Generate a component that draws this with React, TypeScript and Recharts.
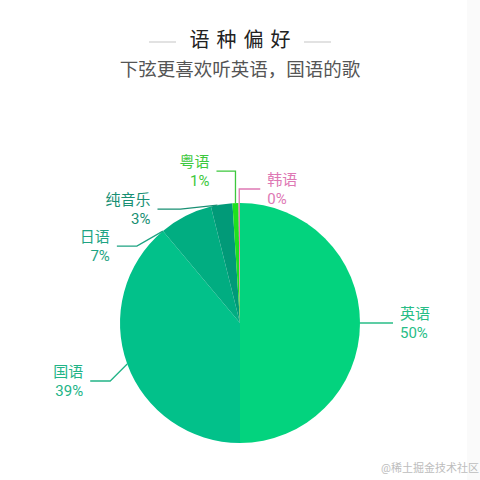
import React from 'react';
import { PieChart, Pie, Cell } from 'recharts';

// chart data
const languages = ['英语', '国语', '日语', '纯音乐', '粤语', '韩语'];
const shares = [50, 38.9, 7.2, 2.9, 0.8, 0.2];

const sliceColors = ['#03d37e', '#02c18a', '#01ad81', '#019a78', '#1ee11e', '#e07bb6'];
const labelColors = ['#27bd86', '#22b487', '#1ea382', '#188f73', '#3dc83d', '#de78b4'];

// label line layout: angle shift on the rim, elbow offset from rim point, horizontal run
const labelLayout = [
  { shift: 0, ex: 0, ey: 0, run: 33, side: 1 },
  { shift: 0, ex: -17, ey: 17, run: 20, side: -1 },
  { shift: 13, ex: -26, ey: 15, run: 20, side: -1 },
  { shift: 2, ex: -37, ey: 4, run: 23, side: -1 },
  { shift: 0, ex: 0, ey: -32, run: 19, side: -1 },
  { shift: 0, ex: 0, ey: -14, run: 21, side: 1 },
];

const data = languages.map((name, i) => ({ name, value: shares[i] }));

const RAD = Math.PI / 180;
const FONT = "Roboto, 'Noto Sans CJK SC', sans-serif";

function renderLabel(props: any) {
  const { cx, cy, midAngle, outerRadius, percent, index, name } = props;
  const lay = labelLayout[index];
  const color = labelColors[index];
  const a = midAngle + lay.shift;
  const x0 = cx + Math.cos(-a * RAD) * outerRadius;
  const y0 = cy + Math.sin(-a * RAD) * outerRadius;
  const x1 = x0 + lay.ex;
  const y1 = y0 + lay.ey;
  const x2 = x1 + lay.side * lay.run;
  const tx = x2 + lay.side * 7;
  const anchor = lay.side > 0 ? 'start' : 'end';
  return (
    <g key={`lbl-${index}`}>
      <polyline
        points={`${x0},${y0} ${x1},${y1} ${x2},${y1}`}
        fill="none"
        stroke={color}
        strokeWidth={1.3}
      />
      <text x={tx} y={y1 - 9.5} textAnchor={anchor} dominantBaseline="central" fill={color} fontSize={15} fontFamily={FONT}>
        {name}
      </text>
      <text x={tx} y={y1 + 9.5} textAnchor={anchor} dominantBaseline="central" fill={color} fontSize={15} fontFamily={FONT}>
        {`${Math.round(percent * 100)}%`}
      </text>
    </g>
  );
}

export default function App() {
  return (
    <div style={{ position: 'absolute', left: 0, top: 0, width: 480, height: 480, background: '#fff', fontFamily: FONT, overflow: 'hidden' }}>
      <div style={{ position: 'absolute', right: 0, top: 0, width: 13, height: 480, background: '#fafafa' }} />
      <div style={{ position: 'absolute', left: 149, top: 41, width: 27, height: 1.5, background: '#e2e2e2' }} />
      <div style={{ position: 'absolute', left: 304, top: 41, width: 27, height: 1.5, background: '#e2e2e2' }} />
      <div style={{ position: 'absolute', left: 0, top: 27, width: 480, textAlign: 'center', fontSize: 20, letterSpacing: 7, textIndent: 7, color: '#222', lineHeight: '26px' }}>
        语种偏好
      </div>
      <div style={{ position: 'absolute', left: 0, top: 58, width: 480, textAlign: 'center', fontSize: 18.5, color: '#555', lineHeight: '24px' }}>
        下弦更喜欢听英语，国语的歌
      </div>
      <div style={{ position: 'absolute', left: 0, top: 0 }}>
        <PieChart width={480} height={480} margin={{ top: 0, right: 0, bottom: 0, left: 0 }}>
          <Pie
            data={data}
            dataKey="value"
            nameKey="name"
            cx={240}
            cy={323}
            outerRadius={120}
            startAngle={90}
            endAngle={-270}
            stroke="none"
            label={renderLabel}
            labelLine={false}
            isAnimationActive={false}
          >
            {data.map((d, i) => (
              <Cell key={d.name} fill={sliceColors[i]} />
            ))}
          </Pie>
        </PieChart>
      </div>
      <div style={{ position: 'absolute', left: 381, top: 459, fontSize: 11, color: '#bdbdbd', whiteSpace: 'nowrap' }}>
        @稀土掘金技术社区
      </div>
    </div>
  );
}
